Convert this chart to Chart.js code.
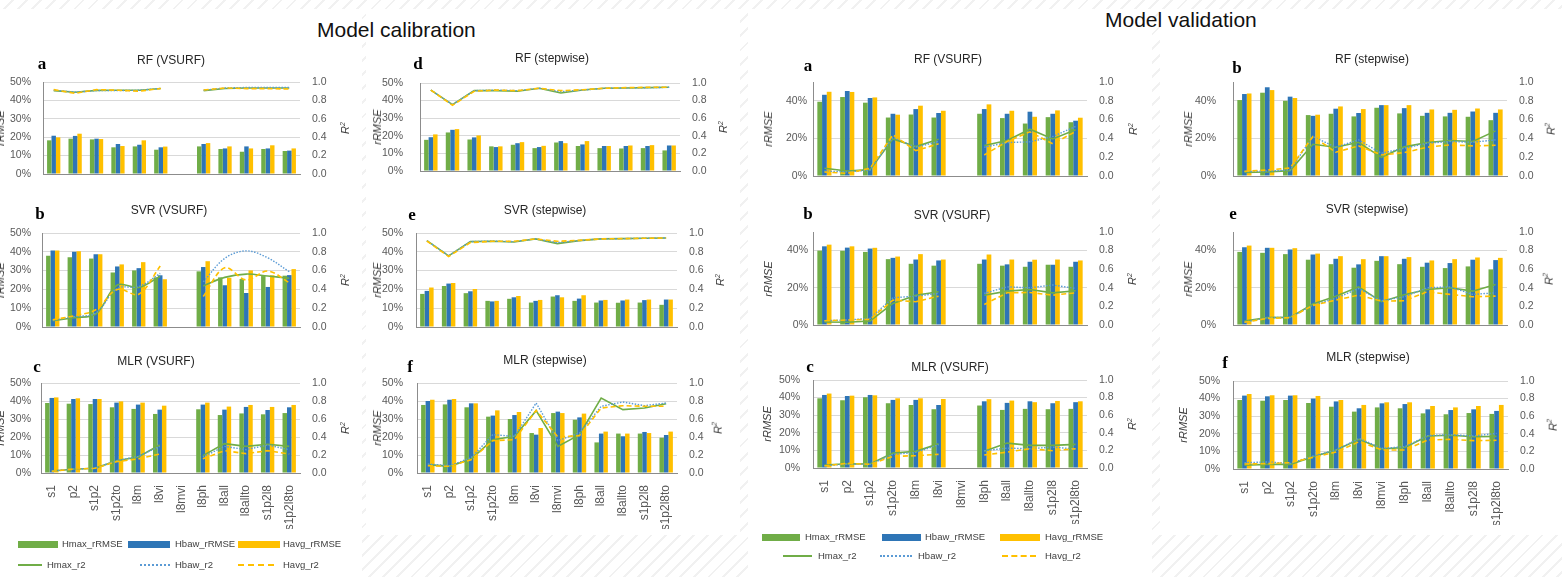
<!DOCTYPE html>
<html>
<head>
<meta charset="utf-8">
<script src="https://cdn.jsdelivr.net/npm/chart.js@4.4.1/dist/chart.umd.min.js"></script>
<style>
  html, body { margin: 0; padding: 0; }
  body {
    width: 1562px; height: 577px; position: relative; overflow: hidden;
    background: repeating-linear-gradient(135deg, #ffffff 0 8px, #f1f1f1 8px 10px);
    font-family: 'Liberation Sans', Arial, sans-serif; color: #595959;
  }
  .sheet { position: absolute; background: #fff; }
  canvas { position: absolute; }
  .head { position: absolute; font-size: 21px; color: #111; white-space: nowrap; line-height: 24px; }
  .ptitle { position: absolute; font-size: 12px; color: #262626; white-space: nowrap; transform: translate(-50%, -50%); }
  .letter { position: absolute; font-family: 'Liberation Serif', 'DejaVu Serif', serif; font-weight: bold; font-size: 17px; color: #000; transform: translate(-50%, -50%); line-height: 17px; }
  .ytitle { position: absolute; font-style: italic; font-size: 11px; color: #404040; white-space: nowrap; transform: translate(-50%, -50%) rotate(-90deg); }
  .lg { position: absolute; font-size: 9.5px; color: #404040; white-space: nowrap; line-height: 12px; }
  .sw { position: absolute; }
</style>
</head>
<body>
<div class="sheet" style="left:0;top:9px;width:362px;height:568px"></div>
<div class="sheet" style="left:366px;top:9px;width:374px;height:526px"></div>
<div class="sheet" style="left:748px;top:9px;width:404px;height:568px"></div>
<div class="sheet" style="left:1160px;top:9px;width:402px;height:526px"></div>

<div class="head" style="left:317px;top:18px">Model calibration</div>
<div class="head" style="left:1105px;top:8px">Model validation</div>

<script>
// Category labels (feature sets)
const categories = ['s1', 'p2', 's1p2', 's1p2to', 'l8m', 'l8vi', 'l8mvi', 'l8ph', 'l8all', 'l8allto', 's1p2l8', 's1p2l8to'];
const seriesNames = ['Hmax_rRMSE', 'Hbaw_rRMSE', 'Havg_rRMSE', 'Hmax_r2', 'Hbaw_r2', 'Havg_r2'];
const pctTicksFull = [0, 10, 20, 30, 40, 50];
const pctTicksSparse = [0, 20, 40];

// ---- Model calibration ----
// RF (VSURF)
const calRfVMaxRmse = [18.3, 19.2, 18.8, 14.5, 15.0, 13.2, null, 15.0, 13.6, 12.1, 13.6, 12.5];
const calRfVBawRmse = [20.8, 20.7, 19.2, 16.3, 15.9, 14.5, null, 16.3, 13.9, 15.0, 13.9, 12.7];
const calRfVAvgRmse = [19.9, 21.9, 19.0, 15.2, 18.3, 14.9, null, 16.8, 15.0, 13.9, 15.6, 13.9];
const calRfVMaxR2 = [0.906, 0.888, 0.909, 0.910, 0.910, 0.930, null, 0.906, 0.930, 0.935, 0.935, 0.935];
const calRfVBawR2 = [0.910, 0.890, 0.906, 0.906, 0.910, 0.930, null, 0.910, 0.935, 0.940, 0.940, 0.940];
const calRfVAvgR2 = [0.917, 0.877, 0.917, 0.910, 0.900, 0.930, null, 0.913, 0.935, 0.928, 0.928, 0.924];
// RF (stepwise)
const calRfSMaxRmse = [17.7, 21.9, 17.9, 14.0, 14.9, 13.0, 16.2, 14.2, 13.0, 12.8, 13.0, 11.7];
const calRfSBawRmse = [19.2, 23.4, 19.1, 13.6, 15.8, 13.6, 17.0, 15.1, 14.2, 14.2, 14.2, 14.5];
const calRfSAvgRmse = [20.8, 23.8, 20.2, 14.0, 16.4, 14.3, 15.8, 17.0, 14.2, 14.5, 14.7, 14.5];
const calRfSMaxR2 = [0.920, 0.755, 0.913, 0.913, 0.906, 0.940, 0.887, 0.920, 0.940, 0.943, 0.947, 0.951];
const calRfSBawR2 = [0.920, 0.755, 0.913, 0.920, 0.913, 0.940, 0.902, 0.920, 0.940, 0.943, 0.947, 0.951];
const calRfSAvgR2 = [0.920, 0.747, 0.906, 0.920, 0.913, 0.940, 0.913, 0.924, 0.940, 0.947, 0.951, 0.951];
// SVR (VSURF)
const calSvrVMaxRmse = [37.9, 37.1, 36.4, 29.0, 30.1, 26.4, null, 29.6, 26.4, 25.5, 27.1, 27.3];
const calSvrVBawRmse = [40.7, 40.0, 38.7, 32.2, 31.3, 27.5, null, 31.9, 22.2, 18.1, 21.3, 27.6];
const calSvrVAvgRmse = [40.7, 40.3, 38.7, 33.3, 34.5, 25.4, null, 35.0, 26.2, 30.1, 27.5, 30.8];
const calSvrVMaxR2 = [0.067, 0.100, 0.137, 0.447, 0.420, 0.540, null, 0.437, 0.528, 0.563, 0.542, 0.518];
const calSvrVBawR2 = [0.070, 0.110, 0.148, 0.410, 0.430, 0.570, null, 0.480, 0.730, 0.810, 0.736, 0.588];
const calSvrVAvgR2 = [0.077, 0.120, 0.183, 0.400, 0.349, 0.648, null, 0.324, 0.630, 0.500, 0.595, 0.472];
// SVR (stepwise)
const calSvrSMaxRmse = [17.6, 21.8, 18.0, 13.9, 15.0, 13.0, 16.2, 13.9, 13.0, 12.9, 13.0, 11.8];
const calSvrSBawRmse = [19.2, 23.1, 19.0, 13.6, 15.8, 13.9, 16.9, 15.1, 14.1, 14.1, 14.3, 14.6];
const calSvrSAvgRmse = [21.0, 23.4, 20.2, 13.9, 16.5, 14.4, 15.8, 16.9, 14.4, 14.6, 14.6, 14.6];
const calSvrSMaxR2 = [0.919, 0.757, 0.908, 0.912, 0.905, 0.937, 0.887, 0.919, 0.937, 0.940, 0.944, 0.947];
const calSvrSBawR2 = [0.919, 0.757, 0.908, 0.915, 0.908, 0.937, 0.898, 0.919, 0.937, 0.940, 0.944, 0.947];
const calSvrSAvgR2 = [0.915, 0.750, 0.898, 0.912, 0.912, 0.937, 0.912, 0.922, 0.937, 0.940, 0.944, 0.947];
// MLR (VSURF)
const calMlrVMaxRmse = [38.9, 38.5, 38.3, 36.5, 35.6, 32.8, null, 35.4, 32.2, 33.1, 32.6, 33.3];
const calMlrVBawRmse = [41.7, 41.1, 41.1, 39.1, 38.0, 35.2, null, 38.0, 35.2, 36.7, 35.0, 36.5];
const calMlrVAvgRmse = [42.0, 41.5, 41.1, 39.8, 39.1, 37.4, null, 39.1, 36.9, 37.8, 36.7, 37.8];
const calMlrVMaxR2 = [0.022, 0.041, 0.052, 0.137, 0.178, 0.311, null, 0.193, 0.326, 0.296, 0.319, 0.296];
const calMlrVBawR2 = [0.022, 0.044, 0.052, 0.137, 0.185, 0.296, null, 0.178, 0.296, 0.259, 0.311, 0.259];
const calMlrVAvgR2 = [0.019, 0.044, 0.052, 0.126, 0.156, 0.211, null, 0.159, 0.248, 0.215, 0.248, 0.211];
// MLR (stepwise)
const calMlrSMaxRmse = [37.8, 38.1, 36.5, 31.3, 30.0, 22.2, 33.3, 29.6, 17.0, 21.9, 21.9, 19.6];
const calMlrSBawRmse = [40.0, 40.7, 38.7, 31.9, 32.2, 21.3, 34.1, 30.9, 21.9, 20.4, 22.8, 21.1];
const calMlrSAvgRmse = [40.7, 41.1, 38.7, 34.8, 33.9, 25.0, 33.3, 33.0, 23.0, 21.9, 22.2, 23.0];
const calMlrSMaxR2 = [0.093, 0.074, 0.156, 0.370, 0.407, 0.693, 0.296, 0.426, 0.833, 0.704, 0.722, 0.770];
const calMlrSBawR2 = [0.100, 0.081, 0.170, 0.426, 0.407, 0.778, 0.359, 0.444, 0.741, 0.789, 0.748, 0.778];
const calMlrSAvgR2 = [0.081, 0.074, 0.148, 0.359, 0.370, 0.696, 0.400, 0.415, 0.722, 0.748, 0.741, 0.741];

// ---- Model validation ----
// RF (VSURF)
const valRfVMaxRmse = [39.5, 42.0, 39.0, 31.1, 32.7, 31.1, null, 33.1, 30.8, 27.9, 31.3, 28.6];
const valRfVBawRmse = [43.2, 45.2, 41.5, 33.1, 35.6, 33.5, null, 35.6, 33.1, 34.2, 33.1, 29.4];
const valRfVAvgRmse = [44.8, 44.7, 41.8, 32.6, 37.4, 34.7, null, 38.1, 34.7, 31.5, 34.9, 31.0];
const valRfVMaxR2 = [0.082, 0.053, 0.068, 0.395, 0.313, 0.391, null, 0.324, 0.377, 0.498, 0.395, 0.491];
const valRfVBawR2 = [0.053, 0.043, 0.064, 0.413, 0.306, 0.367, null, 0.306, 0.356, 0.363, 0.420, 0.527];
const valRfVAvgR2 = [0.043, 0.028, 0.082, 0.438, 0.270, 0.342, null, 0.224, 0.367, 0.470, 0.342, 0.473];
// RF (stepwise)
const valRfSMaxRmse = [40.4, 44.3, 40.0, 32.4, 33.1, 31.7, 36.3, 33.3, 32.0, 31.7, 31.5, 29.7];
const valRfSBawRmse = [43.6, 47.2, 42.2, 32.0, 35.8, 33.5, 37.7, 36.1, 33.6, 33.6, 34.3, 33.6];
const valRfSAvgRmse = [43.9, 45.7, 41.5, 32.6, 37.0, 35.6, 37.7, 37.7, 35.4, 35.2, 35.9, 35.4];
const valRfSMaxR2 = [0.039, 0.043, 0.057, 0.338, 0.306, 0.359, 0.199, 0.310, 0.356, 0.377, 0.367, 0.480];
const valRfSBawR2 = [0.046, 0.053, 0.064, 0.420, 0.306, 0.384, 0.242, 0.295, 0.349, 0.367, 0.359, 0.384];
const valRfSAvgR2 = [0.050, 0.064, 0.085, 0.420, 0.253, 0.320, 0.224, 0.249, 0.306, 0.331, 0.320, 0.327];
// SVR (VSURF)
const valSvrVMaxRmse = [40.0, 39.9, 39.3, 35.4, 32.9, 31.9, null, 32.9, 31.9, 31.3, 32.4, 31.3];
const valSvrVBawRmse = [42.3, 41.6, 41.1, 36.1, 35.2, 34.7, null, 35.2, 32.6, 34.0, 32.4, 34.0];
const valSvrVAvgRmse = [43.2, 42.3, 41.5, 36.8, 38.1, 35.2, null, 37.9, 35.2, 35.1, 35.2, 34.7];
const valSvrVMaxR2 = [0.032, 0.029, 0.043, 0.232, 0.320, 0.357, null, 0.320, 0.364, 0.382, 0.346, 0.368];
const valSvrVBawR2 = [0.046, 0.054, 0.071, 0.293, 0.310, 0.340, null, 0.340, 0.410, 0.400, 0.430, 0.393];
const valSvrVAvgR2 = [0.046, 0.054, 0.061, 0.268, 0.250, 0.310, null, 0.221, 0.346, 0.350, 0.321, 0.346];
// SVR (stepwise)
const valSvrSMaxRmse = [39.3, 38.8, 38.1, 35.1, 32.7, 30.8, 34.5, 32.7, 31.3, 30.6, 31.5, 29.9];
const valSvrSBawRmse = [41.8, 41.5, 40.6, 37.9, 35.6, 32.6, 37.0, 35.6, 33.5, 33.3, 35.1, 34.9];
const valSvrSAvgRmse = [42.7, 41.5, 41.3, 38.4, 37.0, 35.4, 37.0, 36.5, 34.7, 35.4, 36.3, 36.1];
const valSvrSMaxR2 = [0.043, 0.079, 0.082, 0.225, 0.310, 0.410, 0.250, 0.325, 0.382, 0.400, 0.364, 0.436];
const valSvrSBawR2 = [0.029, 0.079, 0.082, 0.214, 0.286, 0.393, 0.260, 0.304, 0.400, 0.410, 0.329, 0.346];
const valSvrSAvgR2 = [0.029, 0.071, 0.079, 0.211, 0.268, 0.321, 0.257, 0.260, 0.357, 0.329, 0.304, 0.311];
// MLR (VSURF)
const valMlrVMaxRmse = [39.6, 38.5, 40.2, 36.8, 35.8, 33.4, null, 35.5, 33.0, 33.6, 33.4, 33.6];
const valMlrVBawRmse = [41.5, 40.9, 41.5, 38.7, 38.7, 35.8, null, 37.9, 37.0, 37.9, 36.8, 37.4];
const valMlrVAvgRmse = [42.3, 41.1, 41.3, 39.6, 39.6, 39.2, null, 39.1, 38.3, 37.4, 38.1, 37.9];
const valMlrVMaxR2 = [0.034, 0.049, 0.045, 0.170, 0.189, 0.275, null, 0.189, 0.283, 0.257, 0.257, 0.268];
const valMlrVBawR2 = [0.026, 0.045, 0.042, 0.155, 0.177, 0.264, null, 0.196, 0.226, 0.219, 0.238, 0.215];
const valMlrVAvgR2 = [0.023, 0.053, 0.042, 0.132, 0.140, 0.155, null, 0.147, 0.181, 0.219, 0.196, 0.219];
// MLR (stepwise)
const valMlrSMaxRmse = [39.2, 38.8, 39.2, 37.5, 35.4, 32.6, 35.0, 34.5, 31.6, 31.1, 31.8, 31.3];
const valMlrSBawRmse = [41.7, 41.3, 41.7, 40.0, 38.4, 34.5, 37.3, 36.9, 33.9, 33.5, 33.9, 33.0];
const valMlrSAvgRmse = [42.6, 41.9, 41.9, 41.5, 39.2, 36.4, 37.9, 37.9, 35.8, 35.0, 35.8, 36.4];
const valMlrSMaxR2 = [0.042, 0.053, 0.053, 0.140, 0.216, 0.337, 0.227, 0.246, 0.375, 0.383, 0.367, 0.371];
const valMlrSBawR2 = [0.072, 0.080, 0.064, 0.148, 0.216, 0.348, 0.235, 0.254, 0.379, 0.390, 0.375, 0.405];
const valMlrSAvgR2 = [0.057, 0.061, 0.072, 0.133, 0.193, 0.310, 0.216, 0.216, 0.330, 0.337, 0.322, 0.326];

// Colours
const GREEN = '#70AD47', BLUE = '#2E75B6', GOLD = '#FFC000', LBLUE = '#5B9BD5';
const TICK_FONT = { family: "'Liberation Sans', Arial, sans-serif", size: 10.5 };
const CAT_FONT = { family: "'Liberation Sans', Arial, sans-serif", size: 12 };
const TICK_COLOR = '#595959';

// Panel layout: plot box [left, right, top, bottom], title/letter centres, axis-title positions
const panels = [
  { title: 'RF (VSURF)', letter: 'a', box: [43, 300, 82, 174], tc: [171, 60], lc: [42, 63], yx: 0, rx: 345, lpad: 12, labels: false, ticks: pctTicksFull, smooth: 0,
    data: [calRfVMaxRmse, calRfVBawRmse, calRfVAvgRmse, calRfVMaxR2, calRfVBawR2, calRfVAvgR2] },
  { title: 'RF (stepwise)', letter: 'd', box: [420, 680, 83, 171], tc: [552, 58], lc: [418, 63], yx: 377, rx: 723, lpad: 17, labels: false, ticks: pctTicksFull, smooth: 0,
    data: [calRfSMaxRmse, calRfSBawRmse, calRfSAvgRmse, calRfSMaxR2, calRfSBawR2, calRfSAvgR2] },
  { title: 'SVR (VSURF)', letter: 'b', box: [42, 300, 233, 327], tc: [169, 210], lc: [40, 213], yx: 0, rx: 345, lpad: 11, labels: false, ticks: pctTicksFull, smooth: 0.35,
    data: [calSvrVMaxRmse, calSvrVBawRmse, calSvrVAvgRmse, calSvrVMaxR2, calSvrVBawR2, calSvrVAvgR2] },
  { title: 'SVR (stepwise)', letter: 'e', box: [416, 677, 233, 327], tc: [545, 210], lc: [412, 214], yx: 377, rx: 720, lpad: 13, labels: false, ticks: pctTicksFull, smooth: 0,
    data: [calSvrSMaxRmse, calSvrSBawRmse, calSvrSAvgRmse, calSvrSMaxR2, calSvrSBawR2, calSvrSAvgR2] },
  { title: 'MLR (VSURF)', letter: 'c', box: [41, 300, 383, 473], tc: [156, 361], lc: [37, 366], yx: 0, rx: 345, lpad: 10, labels: true, ticks: pctTicksFull, smooth: 0,
    data: [calMlrVMaxRmse, calMlrVBawRmse, calMlrVAvgRmse, calMlrVMaxR2, calMlrVBawR2, calMlrVAvgR2] },
  { title: 'MLR (stepwise)', letter: 'f', box: [417, 677, 383, 473], tc: [545, 360], lc: [410, 366], yx: 377, rx: 717, lpad: 14, labels: true, ticks: pctTicksFull, smooth: 0,
    data: [calMlrSMaxRmse, calMlrSBawRmse, calMlrSAvgRmse, calMlrSMaxR2, calMlrSBawR2, calMlrSAvgR2] },

  { title: 'RF (VSURF)', letter: 'a', box: [813, 1087, 82, 176], tc: [948, 59], lc: [808, 65], yx: 768, rx: 1133, lpad: 6, labels: false, ticks: pctTicksSparse, smooth: 0,
    data: [valRfVMaxRmse, valRfVBawRmse, valRfVAvgRmse, valRfVMaxR2, valRfVBawR2, valRfVAvgR2] },
  { title: 'RF (stepwise)', letter: 'b', box: [1233, 1507, 82, 176], tc: [1372, 59], lc: [1237, 67], yx: 1188, rx: 1550, lpad: 17, labels: false, ticks: pctTicksSparse, smooth: 0,
    data: [valRfSMaxRmse, valRfSBawRmse, valRfSAvgRmse, valRfSMaxR2, valRfSBawR2, valRfSAvgR2] },
  { title: 'SVR (VSURF)', letter: 'b', box: [813, 1087, 232, 325], tc: [952, 215], lc: [808, 213], yx: 768, rx: 1132, lpad: 5, labels: false, ticks: pctTicksSparse, smooth: 0,
    data: [valSvrVMaxRmse, valSvrVBawRmse, valSvrVAvgRmse, valSvrVMaxR2, valSvrVBawR2, valSvrVAvgR2] },
  { title: 'SVR (stepwise)', letter: 'e', box: [1233, 1507, 232, 325], tc: [1367, 209], lc: [1233, 213], yx: 1188, rx: 1548, lpad: 17, labels: false, ticks: pctTicksSparse, smooth: 0,
    data: [valSvrSMaxRmse, valSvrSBawRmse, valSvrSAvgRmse, valSvrSMaxR2, valSvrSBawR2, valSvrSAvgR2] },
  { title: 'MLR (VSURF)', letter: 'c', box: [813, 1087, 380, 468], tc: [950, 367], lc: [810, 366], yx: 767, rx: 1132, lpad: 13, labels: true, ticks: pctTicksFull, smooth: 0,
    data: [valMlrVMaxRmse, valMlrVBawRmse, valMlrVAvgRmse, valMlrVMaxR2, valMlrVBawR2, valMlrVAvgR2] },
  { title: 'MLR (stepwise)', letter: 'f', box: [1233, 1508, 381, 469], tc: [1368, 357], lc: [1225, 362], yx: 1183, rx: 1552, lpad: 13, labels: true, ticks: pctTicksFull, smooth: 0,
    data: [valMlrSMaxRmse, valMlrSBawRmse, valMlrSAvgRmse, valMlrSMaxR2, valMlrSBawR2, valMlrSAvgR2] }
];

// Axis widths and outer padding (padding must exceed half a tick label plus tick padding)
const AX_L = 40, AX_R = 40, PAD = 26, LABEL_H = 56;

function addDiv(cls, text, x, y, html) {
  const d = document.createElement('div');
  d.className = cls;
  if (html) d.innerHTML = text; else d.textContent = text;
  d.style.left = x + 'px';
  d.style.top = y + 'px';
  document.body.appendChild(d);
  return d;
}

panels.forEach(p => {
  const [x0, x1, yT, yB] = p.box;
  const padB = p.labels ? 2 : PAD;
  const bottom = p.labels ? LABEL_H + padB : PAD;
  const cv = document.createElement('canvas');
  const w = (x1 - x0) + AX_L + AX_R;
  const h = (yB - yT) + PAD + bottom;
  cv.width = w; cv.height = h;
  cv.style.left = (x0 - AX_L) + 'px';
  cv.style.top = (yT - PAD) + 'px';
  cv.style.width = w + 'px'; cv.style.height = h + 'px';
  document.body.appendChild(cv);

  const [maxR, bawR, avgR, maxQ, bawQ, avgQ] = p.data;
  const bar = (label, data, color) => ({
    type: 'bar', label, data, backgroundColor: color, borderWidth: 0,
    yAxisID: 'y', order: 3, barPercentage: 1.0, categoryPercentage: 0.62
  });
  const line = (label, data, color, dash, width, order) => ({
    type: 'line', label, data, borderColor: color, borderWidth: width, borderDash: dash,
    pointRadius: 0, fill: false, spanGaps: false, tension: p.smooth, yAxisID: 'y2', order
  });

  new Chart(cv, {
    data: {
      labels: categories,
      datasets: [
        bar(seriesNames[0], maxR, GREEN),
        bar(seriesNames[1], bawR, BLUE),
        bar(seriesNames[2], avgR, GOLD),
        line(seriesNames[3], maxQ, GREEN, [], 1.6, 2),
        line(seriesNames[4], bawQ, LBLUE, [1.5, 1.5], 1.4, 1),
        line(seriesNames[5], avgQ, GOLD, [5, 3], 1.6, 0)
      ]
    },
    options: {
      responsive: false, maintainAspectRatio: false, animation: false, events: [],
      layout: { autoPadding: false, padding: { top: PAD, bottom: padB, left: 0, right: 0 } },
      plugins: { legend: { display: false }, tooltip: { enabled: false } },
      scales: {
        x: {
          type: 'category', offset: true,
          grid: { display: false },
          border: { display: true, color: '#8c8c8c', width: 1 },
          ticks: { display: p.labels, autoSkip: false, minRotation: 90, maxRotation: 90, padding: 4, font: CAT_FONT, color: TICK_COLOR },
          afterFit: s => { s.height = p.labels ? LABEL_H : 0; }
        },
        y: {
          position: 'left', min: 0, max: 50,
          ticks: { stepSize: 10, autoSkip: false, padding: p.lpad, font: TICK_FONT, color: TICK_COLOR, callback: v => v + '%' },
          afterBuildTicks: s => { s.ticks = p.ticks.map(v => ({ value: v })); },
          grid: { color: '#d9d9d9', lineWidth: 1, drawTicks: false },
          border: { display: true, color: '#8c8c8c', width: 1 },
          afterFit: s => { s.width = AX_L; }
        },
        y2: {
          position: 'right', min: 0, max: 1,
          ticks: { stepSize: 0.2, autoSkip: false, padding: 12, font: TICK_FONT, color: TICK_COLOR, callback: v => v.toFixed(1) },
          grid: { display: false, drawTicks: false },
          border: { display: false },
          afterFit: s => { s.width = AX_R; }
        }
      }
    }
  });

  addDiv('ptitle', p.title, p.tc[0], p.tc[1]);
  addDiv('letter', p.letter, p.lc[0], p.lc[1]);
  const yc = (yT + yB) / 2;
  addDiv('ytitle', 'rRMSE', p.yx, yc);
  addDiv('ytitle', 'R<sup style="font-size:7px">2</sup>', p.rx, yc, true);
});

// Legends: bar swatches on the first row, line samples on the second
function legend(spec) {
  const colors = [GREEN, BLUE, GOLD];
  const styles = [`2px solid ${GREEN}`, `2px dotted ${LBLUE}`, `2px dashed ${GOLD}`];
  spec.bars.forEach((b, i) => {
    const sw = document.createElement('div');
    sw.className = 'sw';
    sw.style.cssText = `left:${b[0]}px;top:${spec.y1 - 3}px;width:${b[1] - b[0]}px;height:7px;background:${colors[i]}`;
    document.body.appendChild(sw);
    addDiv('lg', seriesNames[i], b[2], spec.y1 - 6);
  });
  spec.lines.forEach((l, i) => {
    const ln = document.createElement('div');
    ln.className = 'sw';
    ln.style.cssText = `left:${l[0]}px;top:${spec.y2 - 1}px;width:${l[1] - l[0]}px;height:0;border-top:${styles[i]}`;
    document.body.appendChild(ln);
    addDiv('lg', seriesNames[i + 3], l[2], spec.y2 - 6);
  });
}
legend({ y1: 544, y2: 565,
  bars: [[18, 58, 62], [128, 170, 175], [238, 280, 283]],
  lines: [[18, 42, 47], [140, 170, 175], [238, 274, 283]] });
legend({ y1: 537, y2: 556,
  bars: [[762, 800, 805], [882, 921, 925], [1000, 1040, 1045]],
  lines: [[783, 812, 818], [880, 912, 918], [1002, 1036, 1045]] });
</script>
</body>
</html>
